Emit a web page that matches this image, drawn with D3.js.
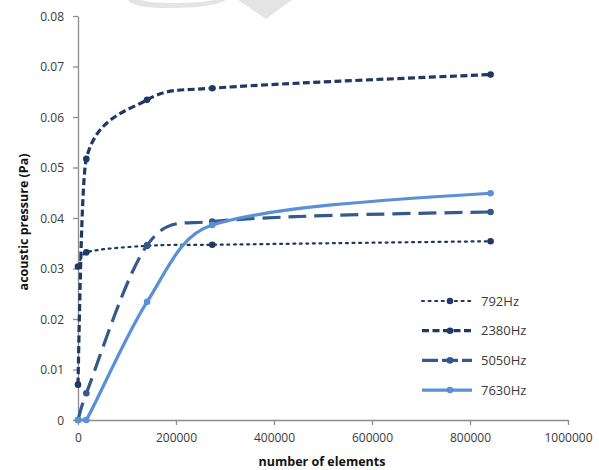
<!DOCTYPE html>
<html>
<head>
<meta charset="utf-8">
<script src="https://cdn.jsdelivr.net/npm/d3@7"></script>
<style>
  html, body { margin: 0; padding: 0; background: #fff; }
  svg { display: block; }
</style>
</head>
<body>
<svg id="chart" width="599" height="470"></svg>
<script>
// ---- data ----
const elements = [0, 17000, 141000, 274000, 842000];
const seriesNames = ["792Hz", "2380Hz", "5050Hz", "7630Hz"];
const p792  = [0.0304, 0.0332, 0.0345, 0.0347, 0.0354];
const p2380 = [0.0070, 0.0517, 0.0634, 0.0657, 0.0684];
const p5050 = [0.0000, 0.0053, 0.0346, 0.0393, 0.0412];
const p7630 = [0.0000, 0.0000, 0.0234, 0.0386, 0.0449];
const xTicks = [0, 200000, 400000, 600000, 800000, 1000000];
const yTicks = [0, 0.01, 0.02, 0.03, 0.04, 0.05, 0.06, 0.07, 0.08];

const seriesValues = [p792, p2380, p5050, p7630];
const styles = [
  { color: "#1f3864", width: 2.2, dash: "2,4.6" },
  { color: "#1f3864", width: 3.2, dash: "7,3.5" },
  { color: "#34598a", width: 3.2, dash: "18,8" },
  { color: "#5b8fd6", width: 3.2, dash: null }
];

const svg = d3.select("#chart");
const fontFam = "'Open Sans', 'Liberation Sans', sans-serif";

// faint watermark shapes at top
svg.append("path")
  .attr("d", "M128,0 Q134,9 175,8 Q215,7 226,0 L214,0 Q200,3 175,3 Q148,3 142,0 Z")
  .attr("fill", "#e4e4e4");
svg.append("path")
  .attr("d", "M238,0 L292,0 L266,19 Z")
  .attr("fill", "#e4e4e4");

const x = d3.scaleLinear().domain([0, 1000000]).range([78, 568]);
const y = d3.scaleLinear().domain([0, 0.08]).range([420, 16]);

const axisColor = "#8c8c8c";

// axes
const gx = svg.append("g").attr("transform", `translate(0,${y(0)})`)
  .call(d3.axisBottom(x).tickValues(xTicks).tickFormat(d3.format("d")).tickSize(5).tickSizeOuter(0));
const gy = svg.append("g").attr("transform", `translate(${x(0)},0)`)
  .call(d3.axisLeft(y).tickValues(yTicks).tickFormat(d => d === 0 ? "0" : d3.format(".2f")(d)).tickSize(5).tickSizeOuter(0));

[gx, gy].forEach(g => {
  g.select(".domain").attr("stroke", axisColor).attr("stroke-width", 1.3);
  g.selectAll(".tick line").attr("stroke", axisColor).attr("stroke-width", 1.3);
  g.selectAll("text").attr("fill", "#3a3a3a").style("font-family", fontFam).style("font-size", "12px");
});
gx.selectAll("text").attr("dy", null).attr("y", 22);
gy.selectAll("text").attr("x", -14).attr("dy", "0.35em");

// Excel-like smoothed line: Catmull-Rom tangents with limited control arms
function makeSmoothCurve(yLimit) {
  function Smooth(context) { this._context = context; }
  Smooth.prototype = {
    areaStart() {}, areaEnd() {},
    lineStart() { this._pts = []; },
    point(px, py) { this._pts.push([+px, +py]); },
    lineEnd() {
      const p = this._pts, c = this._context, n = p.length;
      if (!n) return;
      c.moveTo(p[0][0], p[0][1]);
      if (n === 1) return;
      const T = p.map((pt, i) => {
        const a = p[Math.max(0, i - 1)], b = p[Math.min(n - 1, i + 1)];
        return [(b[0] - a[0]) / 2, (b[1] - a[1]) / 2];
      });
      const arm = (t, dx, len) => {
        let ax = t[0] / 3, ay = t[1] / 3;
        let s = 1;
        const l = Math.hypot(ax, ay);
        if (l > 0.5 * len) s = Math.min(s, 0.5 * len / l);
        if (Math.abs(ax) > 0.5 * Math.abs(dx)) s = Math.min(s, 0.5 * Math.abs(dx) / Math.abs(ax));
        return [ax * s, ay * s];
      };
      for (let i = 0; i < n - 1; i++) {
        const p0 = p[i], p1 = p[i + 1];
        const dx = p1[0] - p0[0], len = Math.hypot(dx, p1[1] - p0[1]);
        const a = arm(T[i], dx, len), b = arm(T[i + 1], dx, len);
        let c1 = [p0[0] + a[0], p0[1] + a[1]];
        let c2 = [p1[0] - b[0], p1[1] - b[1]];
        if (i === 0 && n > 2) c1 = [p0[0] + (c2[0] - p0[0]) / 2, p0[1] + (c2[1] - p0[1]) / 2];
        if (i === n - 2 && n > 2) c2 = [p1[0] + (c1[0] - p1[0]) / 2, p1[1] + (c1[1] - p1[1]) / 2];
        c1[1] = Math.min(yLimit, c1[1]);
        c2[1] = Math.min(yLimit, c2[1]);
        c.bezierCurveTo(c1[0], c1[1], c2[0], c2[1], p1[0], p1[1]);
      }
    }
  };
  return ctx => new Smooth(ctx);
}

const line = d3.line()
  .x(d => x(d[0]))
  .y(d => y(d[1]))
  .curve(makeSmoothCurve(y(0)));

const plot = svg.append("g");
seriesValues.forEach((vals, i) => {
  const pts = elements.map((e, j) => [e, vals[j]]);
  const st = styles[i];
  plot.append("path")
    .datum(pts)
    .attr("d", line)
    .attr("fill", "none")
    .attr("stroke", st.color)
    .attr("stroke-width", st.width)
    .attr("stroke-dasharray", st.dash)
    .attr("stroke-linecap", i === 0 ? "round" : "butt");
  plot.selectAll(null).data(pts).enter().append("circle")
    .attr("cx", d => x(d[0]))
    .attr("cy", d => y(d[1]))
    .attr("r", 3.3)
    .attr("fill", st.color);
});

// legend
const legend = svg.append("g");
seriesNames.forEach((name, i) => {
  const st = styles[i];
  const ly = 301 + i * 29.7;
  const dash = i === 2 ? "16,4" : st.dash;
  legend.append("line")
    .attr("x1", 422).attr("x2", 472).attr("y1", ly).attr("y2", ly)
    .attr("stroke", st.color).attr("stroke-width", st.width)
    .attr("stroke-dasharray", dash)
    .attr("stroke-linecap", i === 0 ? "round" : "butt");
  legend.append("circle").attr("cx", 450).attr("cy", ly).attr("r", 3.3).attr("fill", st.color);
  legend.append("text")
    .attr("x", 481).attr("y", ly).attr("dy", "0.36em")
    .attr("fill", "#3a3a3a")
    .style("font-family", fontFam).style("font-size", "13px")
    .text(name);
});

// axis titles
svg.append("text")
  .attr("x", 322).attr("y", 466)
  .attr("text-anchor", "middle")
  .attr("fill", "#111")
  .style("font-family", fontFam).style("font-size", "12.5px").style("font-weight", "bold")
  .text("number of elements");
svg.append("text")
  .attr("transform", "translate(28,222) rotate(-90)")
  .attr("text-anchor", "middle")
  .attr("fill", "#111")
  .style("font-family", fontFam).style("font-size", "12.5px").style("font-weight", "bold")
  .text("acoustic pressure (Pa)");
</script>
</body>
</html>
